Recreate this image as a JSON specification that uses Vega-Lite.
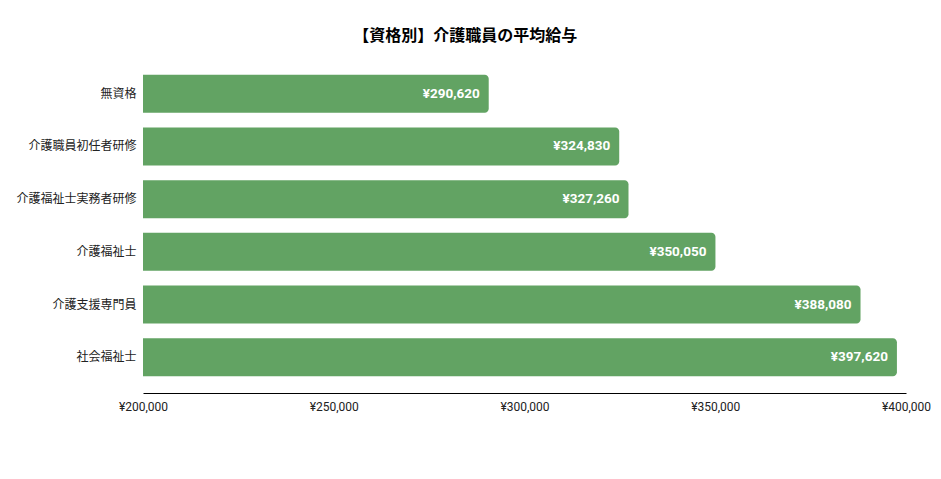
{
  "$schema": "https://vega.github.io/schema/vega-lite/v6.json",
  "width": 763,
  "height": 335,
  "autosize": {"type": "none"},
  "padding": {"left": 143, "top": 58, "right": 35, "bottom": 86},
  "background": "#ffffff",
  "title": {
    "text": "【資格別】介護職員の平均給与",
    "anchor": "middle",
    "frame": "bounds",
    "fontSize": 16,
    "fontWeight": "bold",
    "color": "#000000",
    "offset": 14,
    "dx": -8,
    "font": "Roboto, Noto Sans CJK JP"
  },
  "config": {
    "view": {"stroke": null},
    "font": "Roboto, Noto Sans CJK JP"
  },
  "data": {
    "values": [
      {"qual": "無資格", "salary": 290620},
      {"qual": "介護職員初任者研修", "salary": 324830},
      {"qual": "介護福祉士実務者研修", "salary": 327260},
      {"qual": "介護福祉士", "salary": 350050},
      {"qual": "介護支援専門員", "salary": 388080},
      {"qual": "社会福祉士", "salary": 397620}
    ]
  },
  "encoding": {
    "y": {
      "field": "qual",
      "type": "nominal",
      "sort": null,
      "title": null,
      "scale": {"paddingInner": 0.28, "paddingOuter": 0.32},
      "axis": {
        "ticks": false,
        "domain": false,
        "labelFontSize": 12,
        "labelColor": "#222222",
        "labelPadding": 7,
        "labelFont": "Noto Sans CJK JP"
      }
    },
    "x": {
      "field": "salary",
      "type": "quantitative",
      "title": null,
      "scale": {"domain": [200000, 400000], "zero": false, "nice": false},
      "axis": {
        "values": [200000, 250000, 300000, 350000, 400000],
        "labelExpr": "'¥' + format(datum.value, ',')",
        "labelFlush": false,
        "grid": false,
        "ticks": false,
        "domainColor": "#000000",
        "domainWidth": 1,
        "labelFontSize": 12,
        "labelColor": "#222222",
        "labelPadding": 8,
        "labelFont": "Roboto"
      }
    }
  },
  "layer": [
    {
      "mark": {"type": "bar", "color": "#62a363", "cornerRadiusTopRight": 4, "cornerRadiusBottomRight": 4},
      "encoding": {"x2": {"datum": 200000}}
    },
    {
      "mark": {
        "type": "text",
        "align": "right",
        "baseline": "middle",
        "dx": -9,
        "color": "#ffffff",
        "fontWeight": "bold",
        "fontSize": 13.5,
        "font": "Roboto",
        "text": {"expr": "'¥' + format(datum.salary, ',')"}
      }
    }
  ]
}
